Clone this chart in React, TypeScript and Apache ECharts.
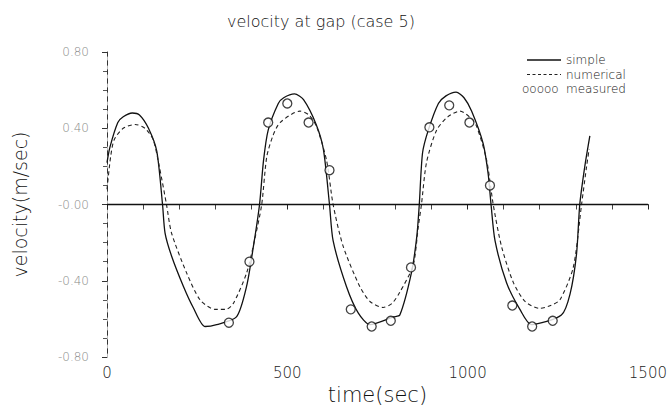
import React, { useEffect, useRef } from "react";
import * as echarts from "echarts";

const simpleTime = [0, 8, 30, 45, 70, 90, 115, 138, 154, 161, 179, 212, 239, 272, 304, 359, 387, 406, 423, 434, 447, 475, 490, 520, 545, 580, 600, 617, 627, 664, 697, 729, 794, 812, 844, 859, 866, 875, 891, 919, 940, 968, 990, 1011, 1043, 1057, 1065, 1076, 1108, 1145, 1177, 1260, 1284, 1302, 1311, 1325, 1339];
const simpleVel = [0.22, 0.3, 0.43, 0.46, 0.48, 0.47, 0.4, 0.28, 0.0, -0.15, -0.27, -0.43, -0.54, -0.64, -0.63, -0.59, -0.43, -0.22, 0.0, 0.23, 0.39, 0.53, 0.56, 0.58, 0.55, 0.42, 0.29, 0.0, -0.19, -0.43, -0.57, -0.63, -0.59, -0.58, -0.36, -0.17, 0.0, 0.27, 0.39, 0.53, 0.57, 0.59, 0.56, 0.49, 0.32, 0.16, 0.0, -0.19, -0.41, -0.55, -0.63, -0.58, -0.47, -0.26, 0.0, 0.2, 0.36];

const numericalTime = [0, 10, 20, 45, 78, 105, 128, 145, 165, 179, 221, 258, 299, 330, 350, 387, 410, 429, 443, 460, 480, 535, 560, 581, 609, 627, 655, 701, 730, 766, 790, 812, 849, 863, 872, 886, 914, 945, 979, 1005, 1025, 1053, 1071, 1094, 1127, 1160, 1200, 1230, 1256, 1293, 1316, 1330, 1337];
const numericalVel = [0.08, 0.25, 0.34, 0.4, 0.42, 0.4, 0.34, 0.2, 0.0, -0.15, -0.36, -0.5, -0.55, -0.55, -0.52, -0.36, -0.18, 0.0, 0.25, 0.36, 0.43, 0.49, 0.47, 0.41, 0.23, 0.0, -0.22, -0.43, -0.51, -0.54, -0.52, -0.46, -0.32, -0.12, 0.0, 0.22, 0.39, 0.46, 0.49, 0.46, 0.41, 0.23, 0.0, -0.22, -0.41, -0.51, -0.545, -0.53, -0.5, -0.33, 0.0, 0.2, 0.29];

const measuredTime = [338, 395, 447, 500, 559, 617, 676, 734, 787, 843, 894, 949, 1005, 1062, 1124, 1179, 1236];
const measuredVel = [-0.62, -0.3, 0.43, 0.53, 0.43, 0.18, -0.55, -0.64, -0.61, -0.33, 0.405, 0.52, 0.43, 0.1, -0.53, -0.64, -0.61];

const xTicks = [0, 500, 1000, 1500];
const xTickLabels = ["0", "500", "1000", "1500"];
const yTicks = [-0.8, -0.4, 0, 0.4, 0.8];
const yTickLabels = ["-0.80", "-0.40", "-0.00", "0.40", "0.80"];

const legendNames = ["simple", "numerical", "measured"];
const titleText = "velocity at gap (case 5)";
const xName = "time(sec)";
const yName = "velocity(m/sec)";

const FONT = "'DejaVu Sans', sans-serif";

export default function App() {
  const ref = useRef<HTMLDivElement>(null);
  useEffect(() => {
    document.body.style.margin = "0";
    if (!ref.current) return;
    const chart = echarts.init(ref.current, undefined, { renderer: "svg" });
    const zip = (a: number[], b: number[]) => a.map((t, i) => [t, b[i]]);
    const pick = (ticks: number[], labels: string[]) => (v: number) => {
      const i = ticks.findIndex((t) => Math.abs(t - v) < 1e-9);
      return i >= 0 ? labels[i] : "";
    };
    const legendFont = `200 12px ${FONT}`;
    const rowY = [60, 74.5, 89];
    const option: any = {
      animation: false,
      backgroundColor: "#fff",
      title: {
        text: titleText,
        left: 222,
        top: 8,
        textStyle: { fontFamily: FONT, fontSize: 16, fontWeight: 200, color: "#111" },
      },
      grid: { left: 107, top: 52, width: 541, height: 305, show: false },
      xAxis: [
        {
          type: "value",
          min: xTicks[0],
          max: xTicks[xTicks.length - 1],
          interval: 500,
          name: xName,
          nameLocation: "middle",
          nameGap: 17,
          nameTextStyle: { fontFamily: FONT, fontSize: 21, fontWeight: 200, color: "#111" },
          axisLine: { show: true, lineStyle: { color: "#222", width: 1.2 } },
          axisTick: { show: true, inside: false, length: 5, lineStyle: { color: "#222" } },
          minorTick: { show: true, splitNumber: 5, length: 5, lineStyle: { color: "#444" } },
          axisLabel: {
            margin: 8,
            fontFamily: FONT,
            fontSize: 15,
            fontWeight: 200,
            color: "#222",
            formatter: pick(xTicks, xTickLabels),
          },
          splitLine: { show: false },
        },
        {
          type: "value",
          position: "top",
          min: 0,
          max: 1500,
          axisLine: { show: true, lineStyle: { color: "#222", width: 1.2 } },
          axisTick: { show: false },
          axisLabel: { show: false },
          splitLine: { show: false },
        },
      ],
      yAxis: [
        {
          type: "value",
          min: yTicks[0],
          max: yTicks[yTicks.length - 1],
          interval: 0.4,
          name: yName,
          nameLocation: "middle",
          nameGap: 78,
          nameTextStyle: { fontFamily: FONT, fontSize: 19, fontWeight: 200, color: "#111" },
          axisLine: { show: true, lineStyle: { color: "#333", width: 1 } },
          axisTick: { show: true, inside: false, length: 5, lineStyle: { color: "#333" } },
          minorTick: { show: true, splitNumber: 4, length: 4, lineStyle: { color: "#555" } },
          axisLabel: {
            margin: 18,
            fontFamily: FONT,
            fontSize: 12,
            fontWeight: 200,
            color: "#888",
            formatter: pick(yTicks, yTickLabels),
          },
          splitLine: { show: false },
        },
        {
          type: "value",
          position: "right",
          min: -0.8,
          max: 0.8,
          axisLine: { show: true, lineStyle: { color: "#bbb", width: 1, type: [3, 6] } },
          axisTick: { show: false },
          axisLabel: { show: false },
          splitLine: { show: false },
        },
      ],
      series: [
        {
          name: legendNames[0],
          type: "line",
          data: zip(simpleTime, simpleVel),
          smooth: 0.25,
          showSymbol: false,
          lineStyle: { color: "#111", width: 1.3 },
          markLine: {
            silent: true,
            symbol: "none",
            label: { show: false },
            lineStyle: { color: "#111", width: 1.3, type: "solid" },
            data: [{ yAxis: 0 }],
          },
        },
        {
          name: legendNames[1],
          type: "line",
          data: zip(numericalTime, numericalVel),
          smooth: 0.25,
          showSymbol: false,
          lineStyle: { color: "#222", width: 1.1, type: [4, 3] },
        },
        {
          name: legendNames[2],
          type: "scatter",
          data: zip(measuredTime, measuredVel),
          symbol: "circle",
          symbolSize: 9,
          itemStyle: { color: "#fff", borderColor: "#111", borderWidth: 1.3 },
          z: 5,
        },
      ],
      graphic: [
        { type: "line", shape: { x1: 527, y1: rowY[0], x2: 561, y2: rowY[0] }, style: { stroke: "#111", lineWidth: 1.3 } },
        { type: "line", shape: { x1: 527, y1: rowY[1], x2: 561, y2: rowY[1] }, style: { stroke: "#222", lineWidth: 1, lineDash: [3, 2.5] } },
        { type: "text", x: 522, y: rowY[2], style: { text: "ooooo", font: legendFont, fill: "#111", textVerticalAlign: "middle" } },
        ...legendNames.map((n, i) => ({
          type: "text",
          x: 566,
          y: rowY[i],
          style: { text: n, font: legendFont, fill: "#111", textVerticalAlign: "middle" },
        })),
      ],
    };
    chart.setOption(option);
    return () => chart.dispose();
  }, []);
  return <div ref={ref} style={{ width: 670, height: 412 }} />;
}
